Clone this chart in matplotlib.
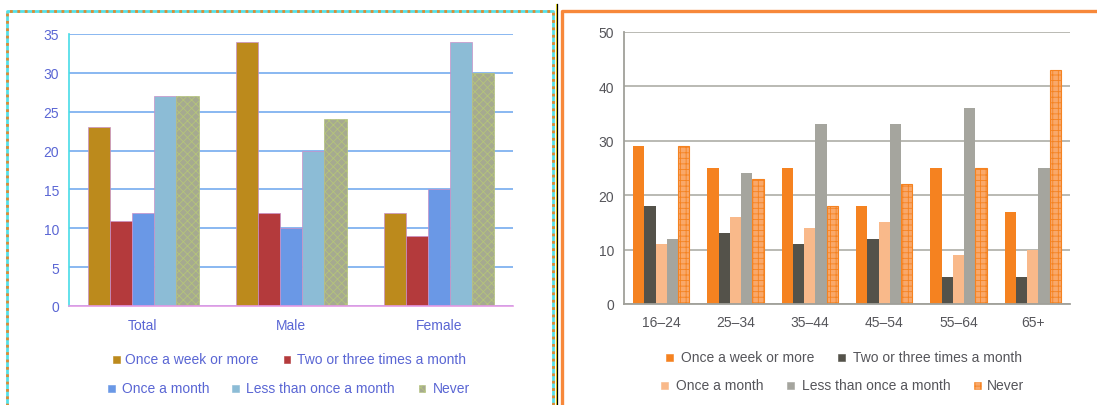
import numpy as np
import matplotlib.pyplot as plt
from matplotlib.patches import Rectangle
from matplotlib.lines import Line2D

plt.rcParams['font.family'] = ['Liberation Sans', 'DejaVu Sans']
plt.rcParams['hatch.linewidth'] = 0.6

# === Data ===
series = ["Once a week or more", "Two or three times a month",
          "Once a month", "Less than once a month", "Never"]

sex_groups = ["Total", "Male", "Female"]
sex_week = [23, 34, 12]
sex_two_three = [11, 12, 9]
sex_month = [12, 10, 15]
sex_less = [27, 20, 34]
sex_never = [27, 24, 30]

age_groups = ["16–24", "25–34", "35–44", "45–54", "55–64", "65+"]
age_week = [29, 25, 25, 18, 25, 17]
age_two_three = [18, 13, 11, 12, 5, 5]
age_month = [11, 16, 14, 15, 9, 10]
age_less = [12, 24, 33, 33, 36, 25]
age_never = [29, 23, 18, 22, 25, 43]

W, H = 1097, 406


def fx(x):
    return x / W


def fy(y):
    return 1 - y / H


fig = plt.figure(figsize=(W / 100, H / 100), dpi=100)

# === Left panel (by sex) ===
left_colors = ['#bc8a1c', '#b43a3c', '#6a98e6', '#8cbcd6', '#a6aa90']
left_text = '#5a66d4'
never_hatch_left = '#b4c47a'
ax1 = fig.add_axes([fx(69), fy(307), fx(513) - fx(69), fy(35) - fy(307)])
x1 = np.arange(len(sex_groups))
bw1 = 0.15
left_vals = [sex_week, sex_two_three, sex_month, sex_less, sex_never]
for i, vals in enumerate(left_vals):
    kw = dict(color=left_colors[i], edgecolor='#c890c8', linewidth=0.5)
    if i == 4:
        kw.update(hatch='xxxx', edgecolor=never_hatch_left)
    ax1.bar(x1 + (i - 2) * bw1, vals, bw1, **kw)
ax1.set_xlim(-0.5, 2.5)
ax1.set_ylim(0, 35)
ax1.set_yticks(range(0, 36, 5))
ax1.yaxis.grid(True, color='#6aa4ee', linewidth=1.1)
ax1.set_axisbelow(True)
ax1.set_xticks(x1)
ax1.set_xticklabels(sex_groups)
ax1.tick_params(axis='both', length=0, labelsize=10, colors=left_text)
ax1.tick_params(axis='y', pad=7)
ax1.tick_params(axis='x', pad=9)
for s in ['top', 'right']:
    ax1.spines[s].set_visible(False)
ax1.spines['left'].set_color('#48dce8')
ax1.spines['left'].set_linewidth(1.2)
ax1.spines['bottom'].set_color('#e49ae4')
ax1.spines['bottom'].set_linewidth(1.2)

# === Right panel (by age) ===
right_colors = ['#f58220', '#54524a', '#f9b98a', '#a5a59e', '#f9a86a']
right_text = '#55555a'
ax2 = fig.add_axes([fx(624), fy(305), fx(1070) - fx(624), fy(33) - fy(305)])
x2 = np.arange(len(age_groups))
bw2 = 0.152
right_vals = [age_week, age_two_three, age_month, age_less, age_never]
for i, vals in enumerate(right_vals):
    if i == 4:
        ax2.bar(x2 + (i - 2) * bw2, vals, bw2, color=right_colors[i],
                edgecolor='#f58220', linewidth=0.8, hatch='+++')
    else:
        ax2.bar(x2 + (i - 2) * bw2, vals, bw2, color=right_colors[i], linewidth=0)
ax2.set_xlim(-0.5, 5.5)
ax2.set_ylim(0, 50)
ax2.set_yticks(range(0, 51, 10))
ax2.yaxis.grid(True, color='#b4b4ae', linewidth=1.3)
ax2.set_axisbelow(True)
ax2.set_xticks(x2)
ax2.set_xticklabels(age_groups)
ax2.tick_params(axis='both', length=0, labelsize=10, colors=right_text)
ax2.tick_params(axis='y', pad=7)
ax2.tick_params(axis='x', pad=8)
for s in ['top', 'right']:
    ax2.spines[s].set_visible(False)
ax2.spines['left'].set_color('#a0a09a')
ax2.spines['bottom'].set_color('#a0a09a')
ax2.spines['left'].set_linewidth(1.3)
ax2.spines['bottom'].set_linewidth(1.3)

# === Manual legends ===
def legend_item(mx, my, text_x, label, color, tcolor, hatch=None, ec=None):
    s = 7
    r = Rectangle((fx(mx - s / 2), fy(my + s / 2)), s / W, s / H,
                  transform=fig.transFigure, facecolor=color,
                  edgecolor=ec if ec else color, linewidth=0.4, hatch=hatch)
    fig.add_artist(r)
    fig.text(fx(text_x), fy(my), label, fontsize=10, color=tcolor,
             ha='left', va='center')


left_pos = [(116, 360, 125), (287, 360, 297), (111, 389, 122),
            (235, 389, 246), (422, 389, 433)]
for i, (mx, my, tx) in enumerate(left_pos):
    legend_item(mx, my, tx, series[i], left_colors[i], left_text,
                hatch='xxxx' if i == 4 else None,
                ec=never_hatch_left if i == 4 else None)

right_pos = [(669, 358, 681), (841, 358, 853), (664, 386, 676),
             (790, 386, 802), (977, 386, 987)]
for i, (mx, my, tx) in enumerate(right_pos):
    legend_item(mx, my, tx, series[i], right_colors[i], right_text,
                hatch='+++' if i == 4 else None,
                ec='#f58220' if i == 4 else None)

# === Panel frames ===
for col, ls, lw in [('#54e0e8', '-', 2.0), ('#e08a30', ':', 2.0)]:
    fig.add_artist(Line2D([fx(7), fx(7), fx(553), fx(553)],
                          [fy(420), fy(12), fy(12), fy(420)],
                          transform=fig.transFigure, color=col,
                          linestyle=ls, linewidth=lw))
fig.add_artist(Line2D([fx(555.8), fx(555.8)], [fy(5), fy(410)],
                      transform=fig.transFigure, color='#f2e020', linewidth=0.8))
fig.add_artist(Line2D([fx(557), fx(557)], [fy(5), fy(410)],
                      transform=fig.transFigure, color='black', linewidth=0.9))
fig.add_artist(Line2D([fx(562), fx(562), fx(1100)],
                      [fy(420), fy(12), fy(12)],
                      transform=fig.transFigure, color='#f7883a', linewidth=2.4))

fig.savefig("out.png", dpi=100)
